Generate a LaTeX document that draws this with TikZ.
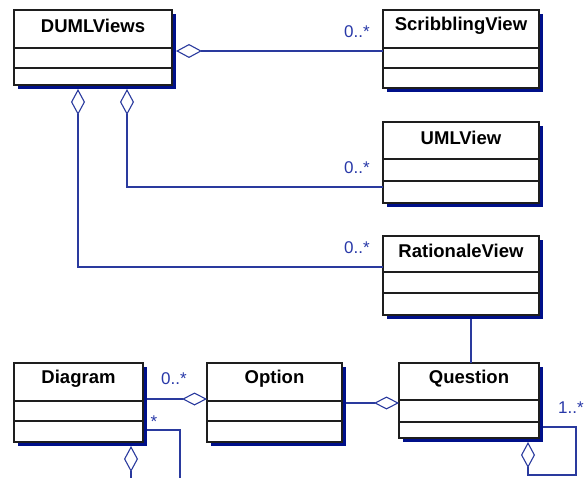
\documentclass[tikz,border=0pt]{standalone}
\usepackage{fontspec}
\setmainfont{Liberation Sans}
\usetikzlibrary{arrows.meta,shadows,calc}

\definecolor{linkblue}{HTML}{2A3A9E}
\definecolor{labelblue}{HTML}{2838A8}
\definecolor{shadownavy}{HTML}{00108A}
\definecolor{boxedge}{HTML}{1E1E1E}

\tikzset{
  classbox/.style={draw=boxedge, line width=1.1pt, fill=white, rectangle,
    inner sep=0pt, outer sep=0pt, anchor=north west,
    drop shadow={shadow xshift=4pt, shadow yshift=-4pt, fill=shadownavy, opacity=1}},
  classtitle/.style={font=\fontsize{18.5}{20}\selectfont\bfseries, text=black, inner sep=0pt},
  divider/.style={draw=boxedge, line width=1.1pt},
  link/.style={draw=linkblue, line width=1.1pt},
  agg/.style={link, {Diamond[open, length=26pt, width=14pt]}-},
  aggend/.style={link, -{Diamond[open, length=25pt, width=13pt]}},
  mult/.style={font=\fontsize{17}{18}\selectfont, text=labelblue, inner sep=0pt}
}

% \umlclass{name}{x1}{y1}{x2}{y2}{first divider}{second divider}{title}
\newcommand{\umlclass}[8]{%
  \node[classbox, minimum width={#4-#2}, minimum height={#5-#3}] (#1) at (#2,#3) {};
  \node[classtitle] (#1-title) at ({(#2+#4)/2},{(#3+#6)/2-3}) {#8};
  \draw[divider] (#1.west |- 0,#6) -- (#1.east |- 0,#6);
  \draw[divider] (#1.west |- 0,#7) -- (#1.east |- 0,#7);
}

\begin{document}
\begin{tikzpicture}[x=1pt, y=-1pt]
  \useasboundingbox (0,0) rectangle (586,478);

  % classes
  \umlclass{DUMLViews}{14}{10}{172}{85}{48}{68}{DUMLViews}
  \umlclass{ScribblingView}{383}{10}{539}{88}{48}{68}{ScribblingView}
  \umlclass{UMLView}{383}{122}{539}{203}{159}{181}{UMLView}
  \umlclass{RationaleView}{383}{236}{539}{315}{272}{293}{RationaleView}
  \umlclass{Diagram}{14}{363}{143}{442}{401}{421}{Diagram}
  \umlclass{Option}{207}{363}{342}{442}{401}{421}{Option}
  \umlclass{Question}{399}{363}{539}{438}{400}{422}{Question}

  % aggregations from DUMLViews to its views
  \draw[agg] ([xshift=4pt]DUMLViews.east |- 0,51) -- (ScribblingView.west |- 0,51);
  \draw[agg] ([yshift=-4pt]DUMLViews.south -| 127,0) |- (UMLView.west |- 0,187);
  \draw[agg] ([yshift=-4pt]DUMLViews.south -| 78,0) |- (RationaleView.west |- 0,267);

  \node[mult] (m-scrib) at (357,32) {0..*};
  \node[mult] (m-uml) at (357,168) {0..*};
  \node[mult] (m-rat) at (357,248) {0..*};

  % rationale view and its question
  \draw[link] ([yshift=-4pt]RationaleView.south -| 471,0) -- (Question.north -| 471,0);

  % options of a question
  \draw[aggend] ([xshift=4pt]Option.east |- 0,403) -- (Question.west |- 0,403);

  % diagram to option
  \draw[aggend] ([xshift=4pt]Diagram.east |- 0,399) -- (Option.west |- 0,399);
  \node[mult] (m-opt) at (174,379) {0..*};

  % diagram links running off the bottom edge
  \coordinate (diag-off) at (180,480);
  \draw[link] ([xshift=4pt]Diagram.east |- 0,430) -| (diag-off);
  \node[mult] (m-star) at (154,422) {*};
  \coordinate (diag-down) at (131,480);
  \draw[agg] ([yshift=-4pt]Diagram.south -| 131,0) -- (diag-down);

  % question self-aggregation
  \coordinate (loop-a) at (528,475);
  \coordinate (loop-b) at (576,475);
  \coordinate (loop-c) at (576,427);
  \draw[agg] ([yshift=-4pt]Question.south -| 528,0) -- (loop-a) -- (loop-b) -- (loop-c)
    -- ([xshift=4pt]Question.east |- loop-c);
  \node[mult] (m-loop) at (571,408) {1..*};
\end{tikzpicture}
\end{document}
